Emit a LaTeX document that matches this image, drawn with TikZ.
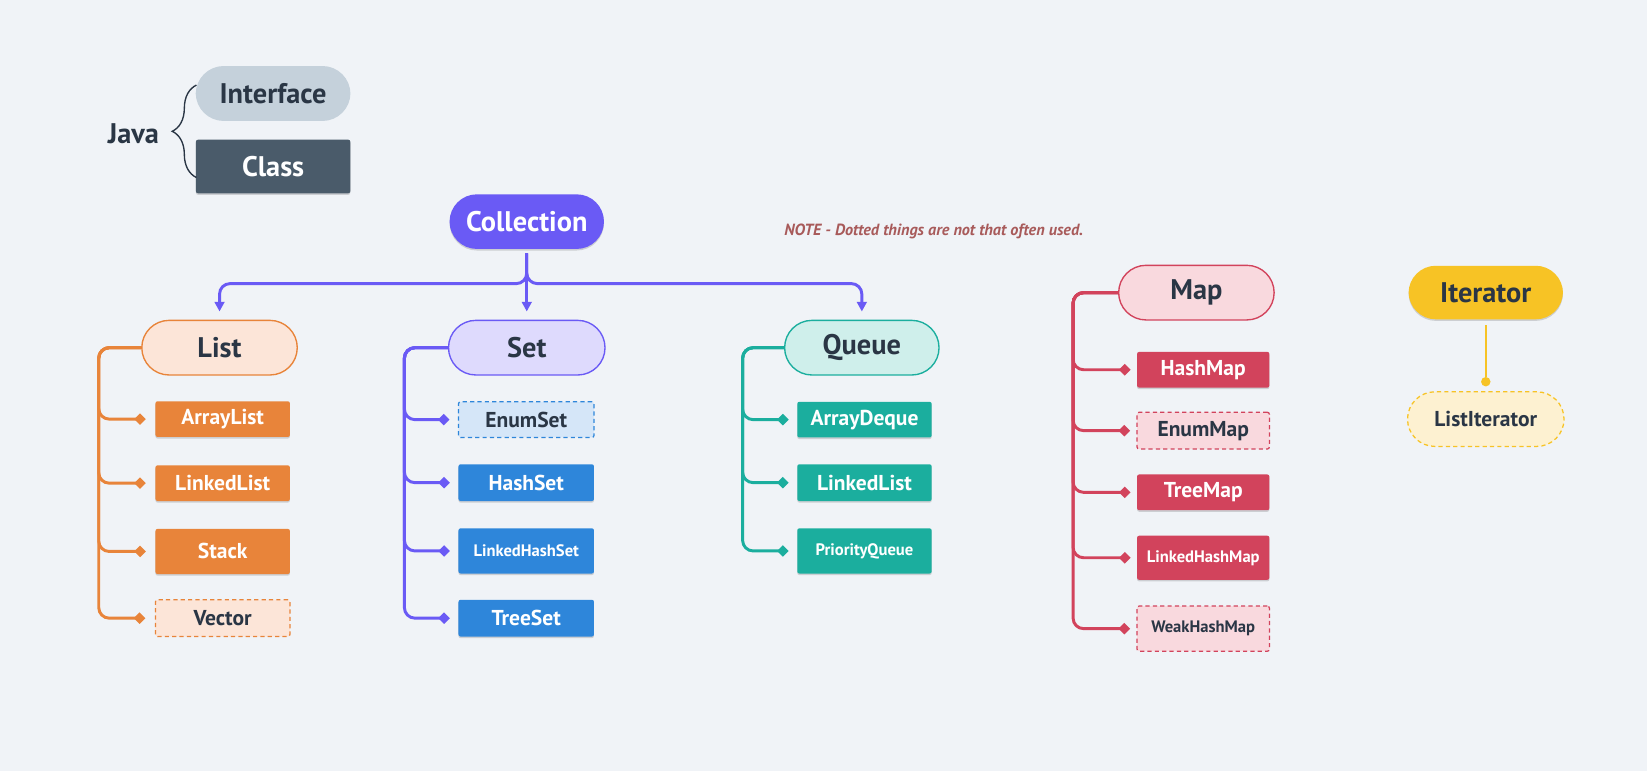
\documentclass[tikz,border=0pt]{standalone}
\usepackage{fontspec}
\setmainfont{PT Sans}
\usepackage{xcolor}
\usepackage{tikz}
\usetikzlibrary{arrows.meta}
\usetikzlibrary{shadows, decorations.pathreplacing}
\definecolor{bg}{HTML}{F0F3F7}
\definecolor{ink}{HTML}{2A3645}
\definecolor{slate}{HTML}{4A5B6A}
\definecolor{slatelight}{HTML}{C5D1DB}
\definecolor{indigo}{HTML}{6A5AF5}
\definecolor{indigolight}{HTML}{DEDAFD}
\definecolor{setblue}{HTML}{2E86DA}
\definecolor{setbluelight}{HTML}{D5E6F8}
\definecolor{listorange}{HTML}{E8843A}
\definecolor{listorangelight}{HTML}{FCE5D8}
\definecolor{queueteal}{HTML}{1BAE9E}
\definecolor{queueteallight}{HTML}{CFEFEB}
\definecolor{mapred}{HTML}{D2435C}
\definecolor{mapredlight}{HTML}{F9D9DE}
\definecolor{iteryellow}{HTML}{F7C325}
\definecolor{iteryellowlight}{HTML}{FDF1D1}
\definecolor{notered}{HTML}{A85A5A}
\tikzset{
head font/.style = { font = \bfseries\fontsize{27}{31}\selectfont },
item font/.style = { font = \bfseries\fontsize{20.5}{24}\selectfont },
small font/.style = { font = \bfseries\fontsize{15.8}{19}\selectfont },
box shadow/.style = { drop shadow={shadow xshift=0pt,shadow yshift=-1.5pt,opacity=0.15,fill=black} },
pill/.style args = {#1, #2}{ rectangle, draw = #1, fill = #2, line width = 1.3pt, text = ink, minimum width = 148pt, minimum height = 52pt, rounded corners = 26pt, inner sep = 0pt, head font },
solid pill/.style args = {#1, #2}{ rectangle, fill = #1, text = #2, minimum width = 147pt, minimum height = 52pt, rounded corners = 26pt, inner sep = 0pt, head font, box shadow },
class box/.style = { rectangle, fill = #1, text = white, minimum width = 128pt, minimum height = 34pt, rounded corners = 2pt, inner sep = 0pt, item font, box shadow },
dotted box/.style args = {#1, #2}{ rectangle, draw = #1, fill = #2, dash pattern = on 4pt off 3pt, line width = 1.2pt, text = ink, minimum width = 128pt, minimum height = 34pt, rounded corners = 2pt, inner sep = 0pt, item font },
}
\tikzset{
rail/.style = { draw = #1, line width = 2.8pt, rounded corners = 10pt, -{Diamond[length = 11pt, width = 11pt, line width = 0pt]} },
coll link/.style = { draw = indigo, line width = 2.8pt, rounded corners = 10pt, -{Triangle[length = 9pt, width = 10pt, line width = 0pt]} },
iter link/.style = { draw = iteryellow, line width = 2.2pt, -{Circle[length = 9pt, line width = 0pt]} },
java brace/.style = { draw = ink, line width = 1.3pt, decorate, decoration={brace,amplitude=23pt} },
}
\begin{document}
\begin{tikzpicture}[x = 1pt, y = -1pt]
      \fill[bg] (0, 0) rectangle (1568, 734);
      \node[text = ink, head font] (java) at (127, 127) {Java};
      \node[pill = {slatelight, slatelight}, minimum width = 146pt, minimum height = 51pt] (interface) at (260, 89) {Interface};
      \node[class box = slate, minimum width = 147pt, minimum height = 51pt, head font] (class) at (260, 158.5) {Class};
      \coordinate (brace top) at (187, 81);
      \coordinate (brace bottom) at (187, 169);
      \draw[java brace] (brace bottom) -- (brace top);
      \node[solid pill = {indigo, white}] (collection) at (501.5, 211) {Collection};
      \node[text = notered, font = \bfseries\itshape\fontsize{15.4}{18}\selectfont] (note) at (889, 220) {NOTE - Dotted things are not that often used.};
      \node[pill = {listorange, listorangelight}] (list) at (209, 331) {List};
      \node[pill = {indigo, indigolight}, minimum width = 149pt] (set) at (501.5, 331) {Set};
      \node[pill = {queueteal, queueteallight}, minimum width = 147pt] (queue) at (820.5, 331) {Queue};
      \node[pill = {mapred, mapredlight}] (map) at (1139, 278.6) {Map};
      \node[solid pill = {iteryellow, ink}, minimum height = 51pt] (iterator) at (1414.5, 278.5) {Iterator};
      \node[dotted box = {iteryellow, iteryellowlight}, minimum width = 149pt, minimum height = 52pt, rounded corners = 26pt] (listiterator) at (1414.5, 399) {ListIterator};
      \node[class box = listorange] (arraylist) at (212, 399) {ArrayList};
      \node[class box = listorange] (linkedlist) at (212, 460) {LinkedList};
      \node[class box = listorange, minimum height = 43pt] (stack) at (212, 525) {Stack};
      \node[dotted box = {listorange, listorangelight}, minimum height = 35pt] (vector) at (212, 588.5) {Vector};
      \node[dotted box = {setblue, setbluelight}, minimum width = 129pt] (enumset) at (501, 399.5) {EnumSet};
      \node[class box = setblue, minimum width = 129pt, minimum height = 35pt] (hashset) at (501, 459.5) {HashSet};
      \node[class box = setblue, minimum width = 129pt, minimum height = 43pt, small font] (linkedhashset) at (501, 524.5) {LinkedHashSet};
      \node[class box = setblue, minimum width = 129pt, minimum height = 35pt] (treeset) at (501, 588.5) {TreeSet};
      \node[class box = queueteal] (arraydeque) at (823, 399.5) {ArrayDeque};
      \node[class box = queueteal, minimum height = 35pt] (queuelinked) at (823, 459.5) {LinkedList};
      \node[class box = queueteal, minimum height = 43pt, small font] (priorityqueue) at (823, 524.5) {PriorityQueue};
      \node[class box = mapred, minimum width = 126pt] (hashmap) at (1145.5, 352) {HashMap};
      \node[dotted box = {mapred, mapredlight}, minimum width = 126pt, minimum height = 35pt] (enummap) at (1145.5, 410) {EnumMap};
      \node[class box = mapred, minimum width = 126pt] (treemap) at (1145.5, 468.7) {TreeMap};
      \node[class box = mapred, minimum width = 126pt, minimum height = 42pt, small font] (linkedhashmap) at (1145.5, 531) {LinkedHashMap};
      \node[dotted box = {mapred, mapredlight}, minimum width = 126pt, minimum height = 43pt, small font] (weakhashmap) at (1145.5, 598.5) {WeakHashMap};
      \coordinate (coll split) at (501.5, 270);
      \draw[coll link, shorten < = 4pt] (collection.south) |- (coll split -| list.north) -- ([yshift = 8pt]list.north);
      \draw[coll link, shorten < = 4pt] (collection.south) -- ([yshift = 8pt]set.north);
      \draw[coll link, shorten < = 4pt] (collection.south) |- (coll split -| queue.north) -- ([yshift = 8pt]queue.north);
      \coordinate (list rail) at (94, 331);
      \draw[rail = listorange] (list.west) -- (list rail) |- ([xshift = -9pt]arraylist.west);
      \draw[rail = listorange] (list.west) -- (list rail) |- ([xshift = -9pt]linkedlist.west);
      \draw[rail = listorange] (list.west) -- (list rail) |- ([xshift = -9pt]stack.west);
      \draw[rail = listorange] (list.west) -- (list rail) |- ([xshift = -9pt]vector.west);
      \coordinate (set rail) at (385, 331);
      \draw[rail = indigo] (set.west) -- (set rail) |- ([xshift = -8pt]enumset.west);
      \draw[rail = indigo] (set.west) -- (set rail) |- ([xshift = -8pt]hashset.west);
      \draw[rail = indigo] (set.west) -- (set rail) |- ([xshift = -8pt]linkedhashset.west);
      \draw[rail = indigo] (set.west) -- (set rail) |- ([xshift = -8pt]treeset.west);
      \coordinate (queue rail) at (707, 331);
      \draw[rail = queueteal] (queue.west) -- (queue rail) |- ([xshift = -8pt]arraydeque.west);
      \draw[rail = queueteal] (queue.west) -- (queue rail) |- ([xshift = -8pt]queuelinked.west);
      \draw[rail = queueteal] (queue.west) -- (queue rail) |- ([xshift = -8pt]priorityqueue.west);
      \coordinate (map rail) at (1021.6, 278.6);
      \draw[rail = mapred] (map.west) -- (map rail) |- ([xshift = -6pt]hashmap.west);
      \draw[rail = mapred] (map.west) -- (map rail) |- ([xshift = -6pt]enummap.west);
      \draw[rail = mapred] (map.west) -- (map rail) |- ([xshift = -6pt]treemap.west);
      \draw[rail = mapred] (map.west) -- (map rail) |- ([xshift = -6pt]linkedhashmap.west);
      \draw[rail = mapred] (map.west) -- (map rail) |- ([xshift = -6pt]weakhashmap.west);
      \draw[iter link] ([yshift = -5.5pt]iterator.south) -- ([yshift = 4.5pt]listiterator.north);
\end{tikzpicture}
\end{document}
